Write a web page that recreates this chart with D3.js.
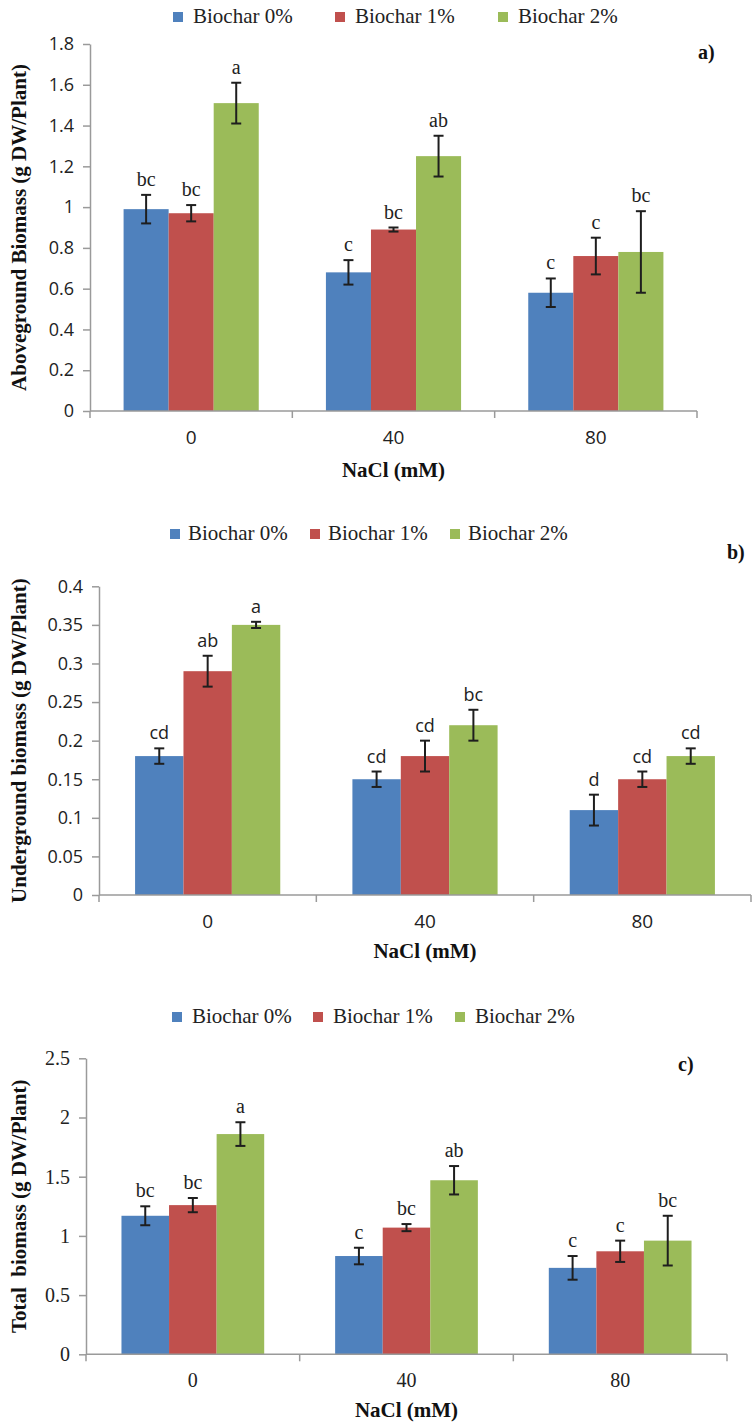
<!DOCTYPE html>
<html>
<head>
<meta charset="utf-8">
<script src="https://cdn.jsdelivr.net/npm/d3@7"></script>
<style>
  html, body { margin: 0; padding: 0; background: #ffffff; }
  svg { display: block; }
</style>
</head>
<body>
<div id="chart"></div>
<script>
// ---------------- DATA ----------------
const categories = ["0", "40", "80"];              // NaCl (mM)
const seriesNames = ["Biochar 0%", "Biochar 1%", "Biochar 2%"];
const seriesColors = ["#4F81BD", "#C0504D", "#9BBB59"];

// a) Aboveground biomass (rows = series, columns = categories)
const aboveValues  = [[0.99, 0.68, 0.58], [0.97, 0.89, 0.76], [1.51, 1.25, 0.78]];
const aboveErrors  = [[0.07, 0.06, 0.07], [0.04, 0.01, 0.09], [0.10, 0.10, 0.20]];
const aboveLetters = [["bc", "c", "c"], ["bc", "bc", "c"], ["a", "ab", "bc"]];
const aboveTicks   = [0, 0.2, 0.4, 0.6, 0.8, 1, 1.2, 1.4, 1.6, 1.8];

// b) Underground biomass
const underValues  = [[0.18, 0.15, 0.11], [0.29, 0.18, 0.15], [0.35, 0.22, 0.18]];
const underErrors  = [[0.01, 0.01, 0.02], [0.02, 0.02, 0.01], [0.004, 0.02, 0.01]];
const underLetters = [["cd", "cd", "d"], ["ab", "cd", "cd"], ["a", "bc", "cd"]];
const underTicks   = [0, 0.05, 0.1, 0.15, 0.2, 0.25, 0.3, 0.35, 0.4];

// c) Total biomass
const totalValues  = [[1.17, 0.83, 0.73], [1.26, 1.07, 0.87], [1.86, 1.47, 0.96]];
const totalErrors  = [[0.08, 0.07, 0.10], [0.06, 0.03, 0.09], [0.10, 0.12, 0.21]];
const totalLetters = [["bc", "c", "c"], ["bc", "bc", "c"], ["a", "ab", "bc"]];
const totalTicks   = [0, 0.5, 1, 1.5, 2, 2.5];

// ---------------- LAYOUT ----------------
const W = 752, H = 1425;
const axisColor = "#9a9a9a";
const textColor = "#222222";
const SERIF = "'Liberation Serif', 'Times New Roman', serif";
const SANS = "'Open Sans', 'Liberation Sans', sans-serif";

const panels = [
  {
    values: aboveValues, errors: aboveErrors, letters: aboveLetters, ticks: aboveTicks,
    yTitle: "Aboveground Biomass (g DW/Plant)", tag: "a)",
    left: 90, right: 697, top: 44, bottom: 411,
    tickFont: SANS, tickSize: 18, letterFont: SERIF, letterSize: 20,
    legendX: [173, 335, 498], legendTextGap: 20, legendY: 23,
    tagX: 698, tagY: 59, titleY: 477, yTitleX: 26
  },
  {
    values: underValues, errors: underErrors, letters: underLetters, ticks: underTicks,
    yTitle: "Underground biomass (g DW/Plant)", tag: "b)",
    left: 99, right: 751, top: 586.3, bottom: 895,
    tickFont: SANS, tickSize: 18, letterFont: SANS, letterSize: 18,
    legendX: [170, 310, 450], legendTextGap: 18, legendY: 540,
    tagX: 727, tagY: 559, titleY: 958, yTitleX: 26
  },
  {
    values: totalValues, errors: totalErrors, letters: totalLetters, ticks: totalTicks,
    yTitle: "Total  biomass (g DW/Plant)", tag: "c)",
    left: 86, right: 727, top: 1058.3, bottom: 1354.3,
    tickFont: SERIF, tickSize: 20, letterFont: SERIF, letterSize: 20,
    legendX: [172, 313, 455], legendTextGap: 20, legendY: 1023,
    tagX: 678, tagY: 1071, titleY: 1417, yTitleX: 26
  }
];

const svg = d3.select("#chart").append("svg")
  .attr("width", W).attr("height", H)
  .attr("viewBox", `0 0 ${W} ${H}`);

function drawPanel(p) {
  const g = svg.append("g");

  const x0 = d3.scaleBand().domain(categories).range([p.left, p.right])
    .paddingInner(0).paddingOuter(0);
  const bw = x0.bandwidth();
  const x1 = d3.scaleBand().domain(seriesNames).range([bw * 0.166, bw * 0.834]).padding(0);
  const yMax = p.ticks[p.ticks.length - 1];
  const y = d3.scaleLinear().domain([0, yMax]).range([p.bottom, p.top]);

  // Legend
  const leg = g.append("g");
  seriesNames.forEach((s, i) => {
    leg.append("rect")
      .attr("x", p.legendX[i]).attr("y", p.legendY - 11)
      .attr("width", 10).attr("height", 10)
      .attr("fill", seriesColors[i]);
    leg.append("text")
      .attr("x", p.legendX[i] + p.legendTextGap).attr("y", p.legendY)
      .attr("font-family", SERIF).attr("font-size", 21)
      .attr("fill", textColor)
      .text(s);
  });

  // Panel tag
  g.append("text")
    .attr("x", p.tagX).attr("y", p.tagY)
    .attr("font-family", SERIF).attr("font-weight", "bold").attr("font-size", 20)
    .attr("fill", "#111")
    .text(p.tag);

  // Y axis
  const ya = g.append("g")
    .attr("transform", `translate(${p.left},0)`)
    .call(d3.axisLeft(y).tickValues(p.ticks).tickFormat(d => String(d))
      .tickSize(7).tickPadding(9).tickSizeOuter(0));
  ya.select(".domain").attr("stroke", axisColor).attr("stroke-width", 1.5);
  ya.selectAll(".tick line").attr("stroke", axisColor).attr("stroke-width", 1.5);
  ya.selectAll(".tick text")
    .attr("font-family", p.tickFont).attr("font-size", p.tickSize)
    .attr("fill", textColor);

  // Bars
  seriesNames.forEach((s, si) => {
    g.append("g").selectAll("rect")
      .data(categories.map((c, ci) => ({ c, v: p.values[si][ci] })))
      .join("rect")
      .attr("x", d => x0(d.c) + x1(s))
      .attr("y", d => y(d.v))
      .attr("width", x1.bandwidth())
      .attr("height", d => y(0) - y(d.v))
      .attr("fill", seriesColors[si]);
  });

  // X axis line and boundary ticks
  g.append("line")
    .attr("x1", p.left).attr("x2", p.right)
    .attr("y1", p.bottom).attr("y2", p.bottom)
    .attr("stroke", axisColor).attr("stroke-width", 1.5);
  const bounds = categories.map(c => x0(c)).concat([x0.range()[1]]);
  g.append("g").selectAll("line").data(bounds).join("line")
    .attr("x1", d => d).attr("x2", d => d)
    .attr("y1", p.bottom).attr("y2", p.bottom + 7)
    .attr("stroke", axisColor).attr("stroke-width", 1.5);

  // Category labels
  g.append("g").selectAll("text").data(categories).join("text")
    .attr("x", d => x0(d) + bw / 2)
    .attr("y", p.bottom + 26)
    .attr("dy", "0.35em")
    .attr("text-anchor", "middle")
    .attr("font-family", p.tickFont).attr("font-size", p.tickFont === SERIF ? 20 : 19)
    .attr("fill", textColor)
    .text(d => d);

  // Error bars + letters
  seriesNames.forEach((s, si) => {
    categories.forEach((c, ci) => {
      const v = p.values[si][ci], e = p.errors[si][ci];
      const cx = x0(c) + x1(s) + x1.bandwidth() / 2;
      const yt = y(v + e), yb = y(v - e);
      const eg = g.append("g").attr("stroke", "#1e1e1e").attr("stroke-width", 2);
      eg.append("line").attr("x1", cx).attr("x2", cx).attr("y1", yt).attr("y2", yb);
      eg.append("line").attr("x1", cx - 5).attr("x2", cx + 5).attr("y1", yt).attr("y2", yt);
      eg.append("line").attr("x1", cx - 5).attr("x2", cx + 5).attr("y1", yb).attr("y2", yb);
      g.append("text")
        .attr("x", cx).attr("y", yt - 9)
        .attr("text-anchor", "middle")
        .attr("font-family", p.letterFont).attr("font-size", p.letterSize)
        .attr("fill", textColor)
        .text(p.letters[si][ci]);
    });
  });

  // Axis titles
  g.append("text")
    .attr("transform", `translate(${p.yTitleX},${(p.top + p.bottom) / 2}) rotate(-90)`)
    .attr("text-anchor", "middle")
    .attr("font-family", SERIF).attr("font-weight", "bold").attr("font-size", 21)
    .attr("fill", "#111")
    .style("white-space", "pre")
    .text(p.yTitle);

  g.append("text")
    .attr("x", (p.left + p.right) / 2).attr("y", p.titleY)
    .attr("text-anchor", "middle")
    .attr("font-family", SERIF).attr("font-weight", "bold").attr("font-size", 21)
    .attr("fill", "#111")
    .text("NaCl (mM)");
}

panels.forEach(drawPanel);
</script>
</body>
</html>
